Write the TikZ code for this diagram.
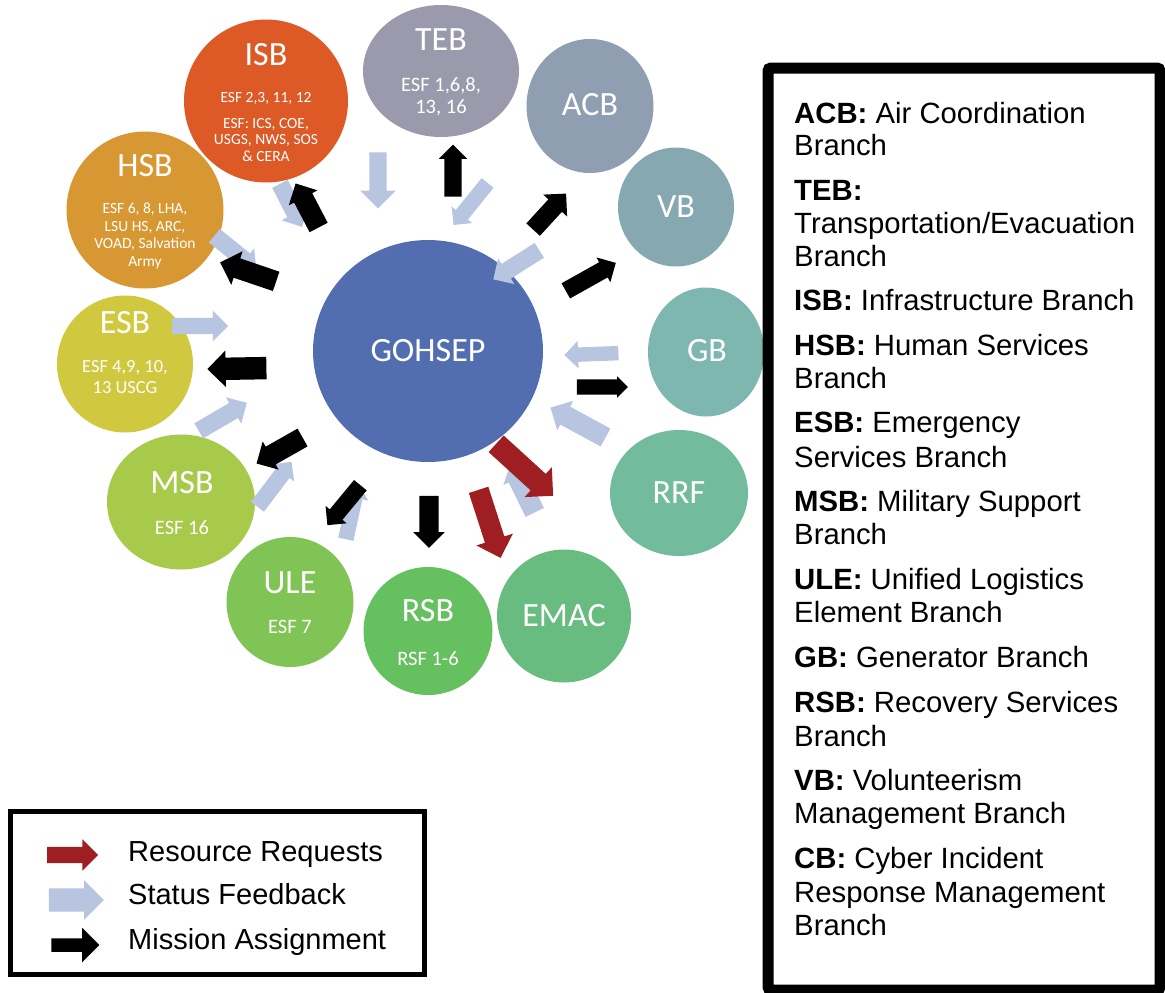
\documentclass[tikz,border=0pt]{standalone}
\usepackage{fontspec}
\setmainfont{Liberation Sans}
\newfontfamily\brfont{Carlito}
\usetikzlibrary{calc,shapes.geometric,shapes.arrows}

\definecolor{gohcol}{HTML}{526EB0}
\definecolor{isbcol}{HTML}{DD5926}
\definecolor{hsbcol}{HTML}{D79833}
\definecolor{esbcol}{HTML}{D0C83E}
\definecolor{msbcol}{HTML}{A8CA4A}
\definecolor{ulecol}{HTML}{80C455}
\definecolor{rsbcol}{HTML}{65C060}
\definecolor{emaccol}{HTML}{68BC80}
\definecolor{rrfcol}{HTML}{73BB9D}
\definecolor{gbcol}{HTML}{7DB7B0}
\definecolor{vbcol}{HTML}{85A8B1}
\definecolor{acbcol}{HTML}{8F9EB0}
\definecolor{tebcol}{HTML}{9A9AAC}
\definecolor{feedcol}{HTML}{B7C5E1}
\definecolor{reqcol}{HTML}{9E1E22}
\definecolor{rimcol}{HTML}{5A5A5A}

\tikzset{
  br/.style={ellipse, draw=none, inner sep=0pt},
  brname/.style={text=white, inner sep=0pt, font=\brfont\fontsize{34}{40}\selectfont},
  brsub/.style 2 args={text=white, inner sep=0pt, align=center, font=\brfont\fontsize{#1}{#2}\selectfont},
  blk/.style 2 args={single arrow, draw=none, inner xsep=0pt, inner ysep=#1/2, minimum width=#2, single arrow head extend={(#2-#1)/2}},
  feed/.style={fill=feedcol},
  task/.style={fill=black},
  req/.style={fill=reqcol},
  keytext/.style={anchor=base west, inner sep=0pt, font=\fontsize{29.3}{34}\selectfont},
  swatch/.style={anchor=base west, inner sep=0pt, font=\fontsize{29}{32}\selectfont}
}

\newcommand\blockarr[4]{%
  \coordinate (#2s) at (#3);
  \coordinate (#2e) at (#4);
  \path let \p1=($(#2e)-(#2s)$) in (#2s) -- node[#1, sloped, allow upside down, minimum height={veclen(\x1,\y1)}] (#2) {} (#2e);}

\begin{document}
\begin{tikzpicture}[x=1pt, y=-1pt]
  \useasboundingbox (0,0) rectangle (1165,993);

  %%%%% BRANCHES %%%%%
  \node[br, fill=gohcol, minimum width=230, minimum height=222] (goh) at (428,351) {};
  \node[br, fill=tebcol, minimum width=156, minimum height=132] (teb) at (441,71) {};
  \node[br, fill=acbcol, minimum width=127, minimum height=134] (acb) at (590,106) {};
  \node[br, fill=vbcol, minimum width=116, minimum height=119] (vb) at (676,207) {};
  \node[br, fill=gbcol, minimum width=116, minimum height=129] (gb) at (706,352) {};
  \node[br, fill=rrfcol, minimum width=138, minimum height=126] (rrf) at (679,493) {};
  \node[br, fill=emaccol, minimum width=134, minimum height=133] (emac) at (564,616) {};
  \node[br, fill=rsbcol, minimum width=129, minimum height=128] (rsb) at (428,631) {};
  \node[br, fill=ulecol, minimum width=127, minimum height=130] (ule) at (290,602) {};
  \node[br, fill=msbcol, minimum width=148, minimum height=135] (msb) at (181,502) {};
  \node[br, fill=esbcol, minimum width=136, minimum height=137] (esb) at (125,364) {};
  \node[br, fill=hsbcol, minimum width=157, minimum height=157] (hsb) at (145,210) {};
  \node[br, fill=isbcol, minimum width=164, minimum height=163] (isb) at (266,101) {};

  \node[brname] (gohn) at (428,351) {GOHSEP};
  \node[brname] (tebn) at (441,40) {TEB};
  \node[brsub={20.5}{22}] (tebs) at (441,97) {ESF 1,6,8,\\13, 16};
  \node[brname] (acbn) at (590,105) {ACB};
  \node[brname] (vbn) at (676,207) {VB};
  \node[brname] (gbn) at (707,351) {GB};
  \node[brname] (rrfn) at (679,493) {RRF};
  \node[brname] (emacn) at (564,616) {EMAC};
  \node[brname] (rsbn) at (428,611) {RSB};
  \node[brsub={20.5}{22}] (rsbs) at (428,659) {RSF 1-6};
  \node[brname] (ulen) at (290,583) {ULE};
  \node[brsub={20.5}{22}] (ules) at (290,627) {ESF 7};
  \node[brname] (msbn) at (182,483) {MSB};
  \node[brsub={20.5}{22}] (msbs) at (182,528) {ESF 16};
  \node[brname] (esbn) at (125,323) {ESB};
  \node[brsub={18.5}{20.5}] (esbs) at (125,377) {ESF 4,9, 10,\\13 USCG};
  \node[brname] (hsbn) at (145,166) {HSB};
  \node[brsub={15.5}{17.6}] (hsbs) at (145,236) {ESF 6, 8, LHA,\\LSU HS, ARC,\\VOAD, Salvation\\Army};
  \node[brname] (isbn) at (266,55) {ISB};
  \node[brsub={15.5}{16.5}] (isbs) at (266,98) {ESF 2,3, 11, 12};
  \node[brsub={15.5}{16.5}] (isbt) at (266,140) {ESF: ICS, COE,\\USGS, NWS, SOS\\\& CERA};

  %%%%% ARROWS %%%%%
  \blockarr{feed, blk={17}{30}}{f1}{278,180}{300,223}
  \blockarr{feed, blk={17}{30}}{f2}{211,233}{253,267}
  \blockarr{feed, blk={17}{35}}{f3}{378,148}{378,204}
  \blockarr{feed, blk={15}{26}}{f4}{490,180}{456,222}
  \blockarr{feed, blk={17}{30}}{f5}{543,248}{497,277}
  \blockarr{feed, blk={14}{27}}{f6}{622,353}{568,355}
  \blockarr{feed, blk={20}{33}}{f7}{610,440}{555,410}
  \blockarr{feed, blk={20}{32}}{f8}{537,517}{513,468}
  \blockarr{feed, blk={15}{27}}{f9}{345,543}{357,488}
  \blockarr{feed, blk={16}{30}}{f10}{168,326}{224,326}
  \blockarr{feed, blk={17}{30}}{f11}{195,433}{243,405}
  \blockarr{feed, blk={16}{28}}{f12}{255,510}{289,465}

  \blockarr{task, blk={20}{32}}{t1}{321,232}{298,188}
  \blockarr{task, blk={20}{35}}{t2}{281,283}{225,264}
  \blockarr{task, blk={17}{28}}{t3}{453,201}{453,149}
  \blockarr{task, blk={18}{32}}{t4}{530,233}{563,197}
  \blockarr{task, blk={17}{28}}{t5}{562,293}{612,265}
  \blockarr{task, blk={15}{21}}{t6}{573,387}{624,387}
  \blockarr{task, blk={19}{31}}{t7}{429,491}{429,543}
  \blockarr{task, blk={16}{27}}{t8}{363,482}{330,522}
  \blockarr{task, blk={22}{36}}{t9}{272,368}{213,369}
  \blockarr{task, blk={20}{32}}{t10}{307,435}{261,461}

  \blockarr{req, blk={22}{40}}{r1}{492,440}{549,492}
  \blockarr{req, blk={20}{38}}{r2}{477,485}{499,553}

  %%%%% KEY %%%%%
  \draw[line width=5] (10,811) rectangle (424,974);
  \blockarr{req, blk={16}{31}}{kr}{43,855}{94,855}
  \blockarr{feed, blk={23}{39}}{kf}{43,900}{98,900}
  \blockarr{task, draw=rimcol, line width=3.5, blk={10}{31}}{kt}{48,945}{96,945}
  \node[swatch] (krt) at (128,861) {Resource Requests};
  \node[swatch] (kft) at (128,904) {Status Feedback};
  \node[swatch] (ktt) at (128,949) {Mission Assignment};

  \draw[line width=11, rounded corners=3] (768,68) rectangle (1160,990);
  \foreach \yb/\entry [count=\i] in {123/{\textbf{ACB:} Air Coordination}, 155/{Branch},
      200/{\textbf{TEB:}}, 233/{Transportation/Evacuation}, 266/{Branch},
      310/{\textbf{ISB:} Infrastructure Branch},
      355/{\textbf{HSB:} Human Services}, 388/{Branch},
      432/{\textbf{ESB:} Emergency}, 467/{Services Branch},
      511/{\textbf{MSB:} Military Support}, 544/{Branch},
      589/{\textbf{ULE:} Unified Logistics}, 622/{Element Branch},
      667/{\textbf{GB:} Generator Branch},
      712/{\textbf{RSB:} Recovery Services}, 746/{Branch},
      790/{\textbf{VB:} Volunteerism}, 823/{Management Branch},
      868/{\textbf{CB:} Cyber Incident}, 902/{Response Management}, 935/{Branch}}
    \node[keytext] (key\i) at (794,\yb) {\entry};
\end{tikzpicture}
\end{document}
